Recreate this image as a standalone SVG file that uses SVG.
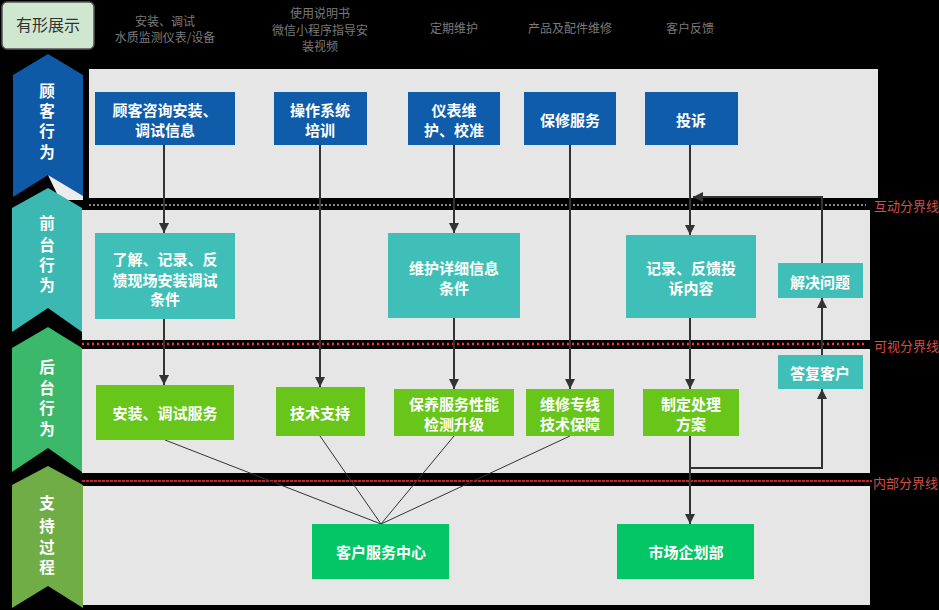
<svg xmlns="http://www.w3.org/2000/svg" width="939" height="610" viewBox="0 0 939 610">
<defs>
<marker id="ah" viewBox="0 0 10 10" refX="10" refY="5" markerWidth="10" markerHeight="10" markerUnits="userSpaceOnUse" orient="auto">
<path d="M0,0 L10,5 L0,10 Z" fill="#333"/>
</marker>
<style>
.panel{fill:#e6e6e6}
.hdr{font-family:"Noto Sans CJK SC","Noto Sans",sans-serif;font-size:12px;fill:#7a7a7a;text-anchor:middle}
.lane{font-family:"Noto Sans CJK SC",sans-serif;font-size:15.5px;font-weight:bold;fill:#fff;text-anchor:middle}
.nt{font-family:"Noto Sans CJK SC",sans-serif;font-size:15px;font-weight:bold;fill:#fff;text-anchor:middle;dominant-baseline:central}
.blue{fill:#0e5caa}
.teal{fill:#3fbfb7}
.lime{fill:#68c61b}
.grn{fill:#05c667}
.conn{stroke:#333;stroke-width:2;fill:none}
.thin{stroke:#333;stroke-width:1;fill:none}
.lbl{font-family:"Noto Sans CJK SC",sans-serif;font-size:13px;fill:#d0504a;dominant-baseline:central}
</style>
</defs>
<rect width="939" height="610" fill="#000"/>
<g id="panels">
<rect class="panel" x="89" y="69" width="789" height="129"/>
<rect class="panel" x="82" y="210" width="788" height="130"/>
<rect class="panel" x="82" y="349" width="788" height="124"/>
<rect class="panel" x="83" y="486" width="787" height="119"/>
</g>
<g id="boundaries">
<line x1="89" y1="205" x2="866" y2="205" stroke="#8a8a8a" stroke-width="2" stroke-dasharray="2,2"/>
<line x1="82" y1="344" x2="866" y2="344" stroke="#ff3030" stroke-width="2.5" stroke-dasharray="2,3"/>
<line x1="82" y1="481" x2="872" y2="481" stroke="#ff3030" stroke-width="1.5" stroke-dasharray="3,1"/>
<text class="lbl" x="874" y="205">互动分界线</text>
<text class="lbl" x="874" y="345">可视分界线</text>
<text class="lbl" x="873" y="482">内部分界线</text>
</g>
<g id="tangible">
<rect x="2" y="2" width="92" height="47" rx="5" fill="#cfe6cf" stroke="#555" stroke-width="1.5"/>
<text x="48" y="31" font-family="Noto Sans CJK SC,sans-serif" font-size="16" fill="#333" text-anchor="middle">有形展示</text>
<text class="hdr" x="165" y="26">安装、调试</text>
<text class="hdr" x="165" y="42">水质监测仪表/设备</text>
<text class="hdr" x="320" y="18">使用说明书</text>
<text class="hdr" x="320" y="35">微信小程序指导安</text>
<text class="hdr" x="320" y="51">装视频</text>
<text class="hdr" x="454" y="33">定期维护</text>
<text class="hdr" x="570" y="33">产品及配件维修</text>
<text class="hdr" x="690" y="33">客户反馈</text>
</g>
<g id="lane-customer">
<polygon points="13,75 48,54 83,75 83,197 48,175 13,197" fill="#0f5aa6"/>
<polygon points="48,175 83,196 83,200 60,200" fill="#ececec"/>
<text class="lane" x="47" y="97">顾</text>
<text class="lane" x="47" y="117">客</text>
<text class="lane" x="47" y="137">行</text>
<text class="lane" x="47" y="158">为</text>
</g>
<g id="lane-front">
<polygon points="12,208 48,188 82,208 82,332 48,308 12,332" fill="#3bb8b1"/>
<text class="lane" x="47" y="229">前</text>
<text class="lane" x="47" y="251">台</text>
<text class="lane" x="47" y="271">行</text>
<text class="lane" x="47" y="291">为</text>
</g>
<g id="lane-back">
<polygon points="12,348 48,327 82,348 82,472 48,448 12,472" fill="#3cb86a"/>
<text class="lane" x="47" y="373">后</text>
<text class="lane" x="47" y="394">台</text>
<text class="lane" x="47" y="414">行</text>
<text class="lane" x="47" y="435">为</text>
</g>
<g id="lane-support">
<polygon points="12,485 48,466 83,485 83,608 48,586 12,608" fill="#70ad47"/>
<text class="lane" x="47" y="509">支</text>
<text class="lane" x="47" y="532">持</text>
<text class="lane" x="47" y="553">过</text>
<text class="lane" x="47" y="573">程</text>
</g>
<g id="connectors">
<line class="conn" x1="164" y1="145" x2="164" y2="233" marker-end="url(#ah)"/>
<line class="conn" x1="164" y1="319" x2="164" y2="385" marker-end="url(#ah)"/>
<line class="conn" x1="320" y1="145" x2="320" y2="387" marker-end="url(#ah)"/>
<line class="conn" x1="454" y1="145" x2="454" y2="233" marker-end="url(#ah)"/>
<line class="conn" x1="454" y1="318" x2="454" y2="389" marker-end="url(#ah)"/>
<line class="conn" x1="570" y1="145" x2="570" y2="389" marker-end="url(#ah)"/>
<line class="conn" x1="690" y1="145" x2="690" y2="235" marker-end="url(#ah)"/>
<line class="conn" x1="690" y1="318" x2="690" y2="389" marker-end="url(#ah)"/>
<line class="conn" x1="690" y1="436" x2="690" y2="524" marker-end="url(#ah)"/>
<polyline class="conn" points="690,468 822,468 822,389" marker-end="url(#ah)"/>
<line class="conn" x1="822" y1="355" x2="822" y2="298" marker-end="url(#ah)"/>
<polyline class="conn" points="822,263 822,197 693,197" marker-end="url(#ah)"/>
<line class="thin" x1="165" y1="440" x2="381" y2="524"/>
<line class="thin" x1="320" y1="436" x2="381" y2="524"/>
<line class="thin" x1="454" y1="436" x2="381" y2="524"/>
<line class="thin" x1="570" y1="436" x2="381" y2="524"/>
</g>
<g id="n-consult"><rect class="blue" x="95" y="92" width="140" height="53"/><text class="nt" x="165" y="109">顾客咨询安装、</text><text class="nt" x="165" y="129">调试信息</text></g>
<g id="n-training"><rect class="blue" x="274" y="92" width="93" height="53"/><text class="nt" x="320" y="109">操作系统</text><text class="nt" x="320" y="129">培训</text></g>
<g id="n-maint"><rect class="blue" x="408" y="92" width="92" height="53"/><text class="nt" x="454" y="109">仪表维</text><text class="nt" x="454" y="129">护、校准</text></g>
<g id="n-warranty"><rect class="blue" x="524" y="92" width="92" height="53"/><text class="nt" x="570" y="119">保修服务</text></g>
<g id="n-complain"><rect class="blue" x="645" y="92" width="93" height="53"/><text class="nt" x="691" y="119">投诉</text></g>
<g id="n-record"><rect class="teal" x="95" y="233" width="140" height="86"/><text class="nt" x="165" y="258">了解、记录、反</text><text class="nt" x="165" y="279">馈现场安装调试</text><text class="nt" x="165" y="298">条件</text></g>
<g id="n-maintinfo"><rect class="teal" x="388" y="233" width="132" height="85"/><text class="nt" x="454" y="267">维护详细信息</text><text class="nt" x="454" y="287">条件</text></g>
<g id="n-complaintrec"><rect class="teal" x="626" y="235" width="130" height="83"/><text class="nt" x="691" y="267">记录、反馈投</text><text class="nt" x="691" y="287">诉内容</text></g>
<g id="n-solve"><rect class="teal" x="778" y="263" width="85" height="35"/><text class="nt" x="820" y="281">解决问题</text></g>
<g id="n-install"><rect class="lime" x="96" y="385" width="138" height="55"/><text class="nt" x="165" y="412">安装、调试服务</text></g>
<g id="n-tech"><rect class="lime" x="276" y="387" width="89" height="49"/><text class="nt" x="320" y="412">技术支持</text></g>
<g id="n-upkeep"><rect class="lime" x="394" y="389" width="120" height="47"/><text class="nt" x="454" y="403">保养服务性能</text><text class="nt" x="454" y="423">检测升级</text></g>
<g id="n-repair"><rect class="lime" x="526" y="389" width="88" height="47"/><text class="nt" x="570" y="403">维修专线</text><text class="nt" x="570" y="423">技术保障</text></g>
<g id="n-plan"><rect class="lime" x="643" y="389" width="96" height="47"/><text class="nt" x="691" y="403">制定处理</text><text class="nt" x="691" y="423">方案</text></g>
<g id="n-reply"><rect class="teal" x="778" y="355" width="85" height="34"/><text class="nt" x="820" y="372">答复客户</text></g>
<g id="n-center"><rect class="grn" x="312" y="524" width="137" height="55"/><text class="nt" x="381" y="551">客户服务中心</text></g>
<g id="n-market"><rect class="grn" x="617" y="524" width="137" height="55"/><text class="nt" x="686" y="551">市场企划部</text></g>
</svg>
